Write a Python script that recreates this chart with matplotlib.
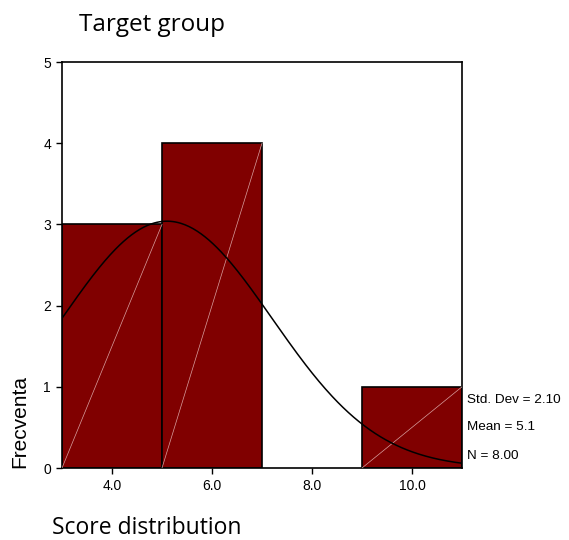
import numpy as np
import matplotlib
matplotlib.use("Agg")
import matplotlib.pyplot as plt

# Data
bin_edges = [3.0, 5.0, 7.0, 9.0, 11.0]
counts = [3, 4, 0, 1]
std_dev = 2.10
mean = 5.1
n = 8.00
x_ticks = [4.0, 6.0, 8.0, 10.0]
x_tick_labels = ["4.0", "6.0", "8.0", "10.0"]
y_ticks = [0, 1, 2, 3, 4, 5]

W, H = 569, 540
fig = plt.figure(figsize=(W / 100, H / 100), dpi=100)
ax = fig.add_axes([62 / W, 1 - 468 / H, 400 / W, 406 / H])

bar_color = "#800000"
widths = np.diff(bin_edges)
lefts = np.array(bin_edges[:-1])
for l, w, c in zip(lefts, widths, counts):
    if c > 0:
        ax.bar(l, c, width=w, align="edge", color=bar_color,
               edgecolor="black", linewidth=1.2, zorder=2)
        ax.plot([l, l + w], [0, c], color="#d8a0a0", linewidth=0.5, zorder=3)

# Normal curve
xs = np.linspace(bin_edges[0], bin_edges[-1], 300)
bw = widths[0]
ys = n * bw / (std_dev * np.sqrt(2 * np.pi)) * np.exp(-0.5 * ((xs - mean) / std_dev) ** 2)
ax.plot(xs, ys, color="black", linewidth=1.1, zorder=4)

ax.set_xlim(bin_edges[0], bin_edges[-1])
ax.set_ylim(0, 5)
ax.set_xticks(x_ticks)
ax.set_xticklabels(x_tick_labels)
ax.set_yticks(y_ticks)
for s in ax.spines.values():
    s.set_linewidth(1.2)
ax.tick_params(axis="both", direction="out", length=4, width=1.0,
               labelsize=10, pad=4)
for lab in ax.get_xticklabels() + ax.get_yticklabels():
    lab.set_fontfamily("Liberation Sans")

stats = [f"Std. Dev = {std_dev:.2f}", f"Mean = {mean:.1f}", f"N = {n:.2f}"]
for txt, ypx in zip(stats, [400, 427, 456]):
    fig.text(467 / W, 1 - ypx / H, txt, ha="left", va="center",
             fontsize=9.7, family="Liberation Sans")

fig.text(79 / W, 1 - 25 / H, "Target group", ha="left", va="center",
         fontsize=17.5, family="Open Sans")
fig.text(52 / W, 1 - 528 / H, "Score distribution", ha="left", va="center",
         fontsize=16.5, family="Open Sans")
fig.text(20 / W, 1 - 468 / H, "Frecventa", ha="center", va="bottom",
         rotation=90, fontsize=15, family="Liberation Sans")

fig.savefig("out.png", dpi=100)
